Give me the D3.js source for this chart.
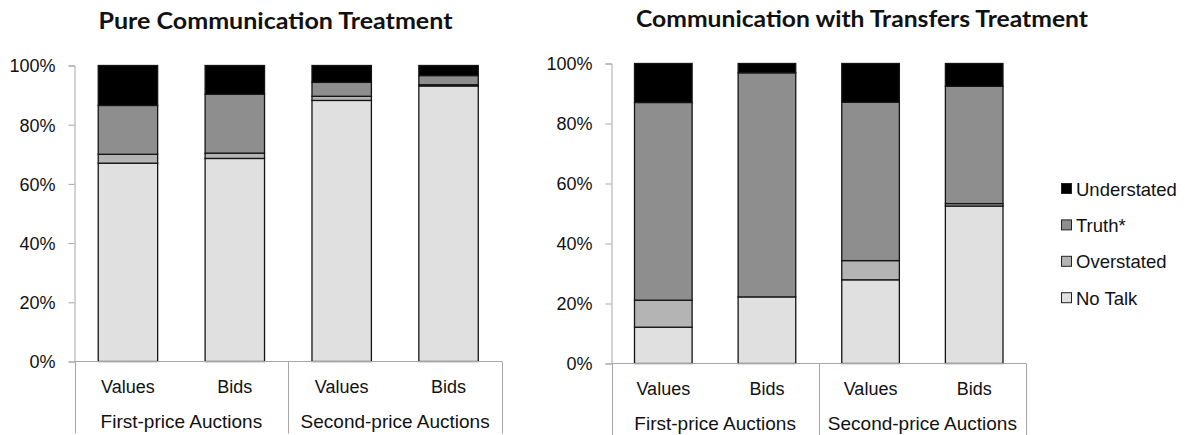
<!DOCTYPE html>
<html>
<head>
<meta charset="utf-8">
<script src="https://cdn.jsdelivr.net/npm/d3@7"></script>
<style>
  html, body { margin: 0; padding: 0; background: #fff; }
  svg text { font-family: "Liberation Sans", Arial, Helvetica, sans-serif; fill: #111; }
  .title { font-family: Lato, "Open Sans", sans-serif !important; font-weight: 700; }
</style>
</head>
<body>
<svg id="chart" width="1185" height="435"></svg>
<script>
// Bar categories and their grouping on the x axis
const categories = ["Values", "Bids", "Values", "Bids"];
const groups = ["First-price Auctions", "Second-price Auctions"];
const seriesNames = ["No Talk", "Overstated", "Truth*", "Understated"];
const yTicks = [0, 20, 40, 60, 80, 100];

// Pure Communication Treatment (percent of messages)
const pureNoTalk      = [67.0, 68.6, 88.2, 93.1];
const pureOverstated  = [3.0, 1.8, 1.4, 0.4];
const pureTruth       = [16.5, 19.9, 4.7, 3.1];
const pureUnderstated = [13.5, 9.7, 5.7, 3.4];

// Communication with Transfers Treatment (percent of messages)
const transNoTalk      = [12.1, 22.2, 27.9, 52.5];
const transOverstated  = [9.0, 0.0, 6.4, 0.8];
const transTruth       = [65.9, 74.7, 52.8, 39.1];
const transUnderstated = [13.0, 3.1, 12.9, 7.6];

const colors = {
  "No Talk": "#e0e0e0",
  "Overstated": "#b4b4b4",
  "Truth*": "#8e8e8e",
  "Understated": "#000000"
};
const axisColor = "#a6a6a6";

const svg = d3.select("#chart");

function buildRows(noTalk, over, truth, under) {
  return categories.map((c, i) => ({
    key: i,
    "No Talk": noTalk[i],
    "Overstated": over[i],
    "Truth*": truth[i],
    "Understated": under[i]
  }));
}

function drawPanel(opt) {
  const g = svg.append("g");
  const rows = buildRows(...opt.values);

  const x = d3.scaleBand()
    .domain(d3.range(categories.length))
    .range([opt.x0, opt.x1])
    .paddingInner(0.444)
    .paddingOuter(0.222);

  const y = d3.scaleLinear().domain([0, 100]).range([opt.yBottom, opt.yTop]);

  const stacked = d3.stack().keys(seriesNames)(rows);

  // stacked bars
  g.selectAll("g.layer")
    .data(stacked)
    .join("g")
    .attr("class", "layer")
    .attr("fill", d => colors[d.key])
    .selectAll("rect")
    .data(d => d)
    .join("rect")
    .attr("x", d => x(d.data.key))
    .attr("width", x.bandwidth())
    .attr("y", d => y(d[1]))
    .attr("height", d => Math.max(0, y(d[0]) - y(d[1])))
    .attr("stroke", "#141414")
    .attr("stroke-width", 1.3);

  // y axis
  const yAxis = d3.axisLeft(y)
    .tickValues(yTicks)
    .tickFormat(d => d + "%")
    .tickSize(6)
    .tickPadding(13);
  const ya = g.append("g")
    .attr("transform", `translate(${opt.x0},0)`)
    .call(yAxis);
  ya.select(".domain").attr("stroke", axisColor);
  ya.selectAll(".tick line").attr("stroke", axisColor);
  ya.selectAll(".tick text")
    .attr("font-size", 18)
    .attr("dy", "0.36em")
    .attr("fill", "#111");

  // x axis baseline
  g.append("line")
    .attr("x1", opt.x0).attr("x2", opt.x1)
    .attr("y1", opt.yBottom).attr("y2", opt.yBottom)
    .attr("stroke", axisColor);

  // group divider lines below the axis
  const step = (opt.x1 - opt.x0) / groups.length;
  d3.range(groups.length + 1).forEach(i => {
    const xx = Math.round(opt.x0 + i * step) + 0.5;
    g.append("line")
      .attr("x1", xx).attr("x2", xx)
      .attr("y1", opt.yBottom).attr("y2", opt.yBottom + 72)
      .attr("stroke", axisColor);
  });

  // category labels
  g.selectAll("text.cat")
    .data(categories)
    .join("text")
    .attr("class", "cat")
    .attr("x", (d, i) => x(i) + x.bandwidth() / 2)
    .attr("y", opt.yBottom + 31)
    .attr("text-anchor", "middle")
    .attr("font-size", 18)
    .text(d => d);

  // group labels
  g.selectAll("text.grp")
    .data(groups)
    .join("text")
    .attr("class", "grp")
    .attr("x", (d, i) => opt.x0 + (i + 0.5) * step)
    .attr("y", opt.yBottom + 66)
    .attr("text-anchor", "middle")
    .attr("font-size", 19)
    .text(d => d);

  // panel title
  svg.append("text")
    .attr("class", "title")
    .attr("x", opt.titleX)
    .attr("y", opt.titleY)
    .attr("text-anchor", "middle")
    .attr("font-size", 23)
    .attr("textLength", opt.titleW)
    .attr("lengthAdjust", "spacingAndGlyphs")
    .text(opt.title);
}

drawPanel({
  title: "Pure Communication  Treatment",
  titleX: 275.5, titleY: 29, titleW: 354,
  x0: 74.5, x1: 502, yTop: 65.5, yBottom: 361.5,
  values: [pureNoTalk, pureOverstated, pureTruth, pureUnderstated]
});

drawPanel({
  title: "Communication with Transfers Treatment",
  titleX: 862, titleY: 27, titleW: 452,
  x0: 611.5, x1: 1026, yTop: 63.5, yBottom: 363.5,
  values: [transNoTalk, transOverstated, transTruth, transUnderstated]
});

// legend (top entry is the top of the stack)
const legendOrder = seriesNames.slice().reverse();
const legend = svg.append("g").attr("transform", "translate(1061,189)");
const item = legend.selectAll("g")
  .data(legendOrder)
  .join("g")
  .attr("transform", (d, i) => `translate(0,${i * 36.4})`);
item.append("rect")
  .attr("x", 0.5).attr("y", -5.5)
  .attr("width", 10).attr("height", 10)
  .attr("fill", d => colors[d])
  .attr("stroke", "#222")
  .attr("stroke-width", 1);
item.append("text")
  .attr("x", 15)
  .attr("y", 0)
  .attr("dy", "0.36em")
  .attr("font-size", 18.5)
  .text(d => d);
</script>
</body>
</html>
